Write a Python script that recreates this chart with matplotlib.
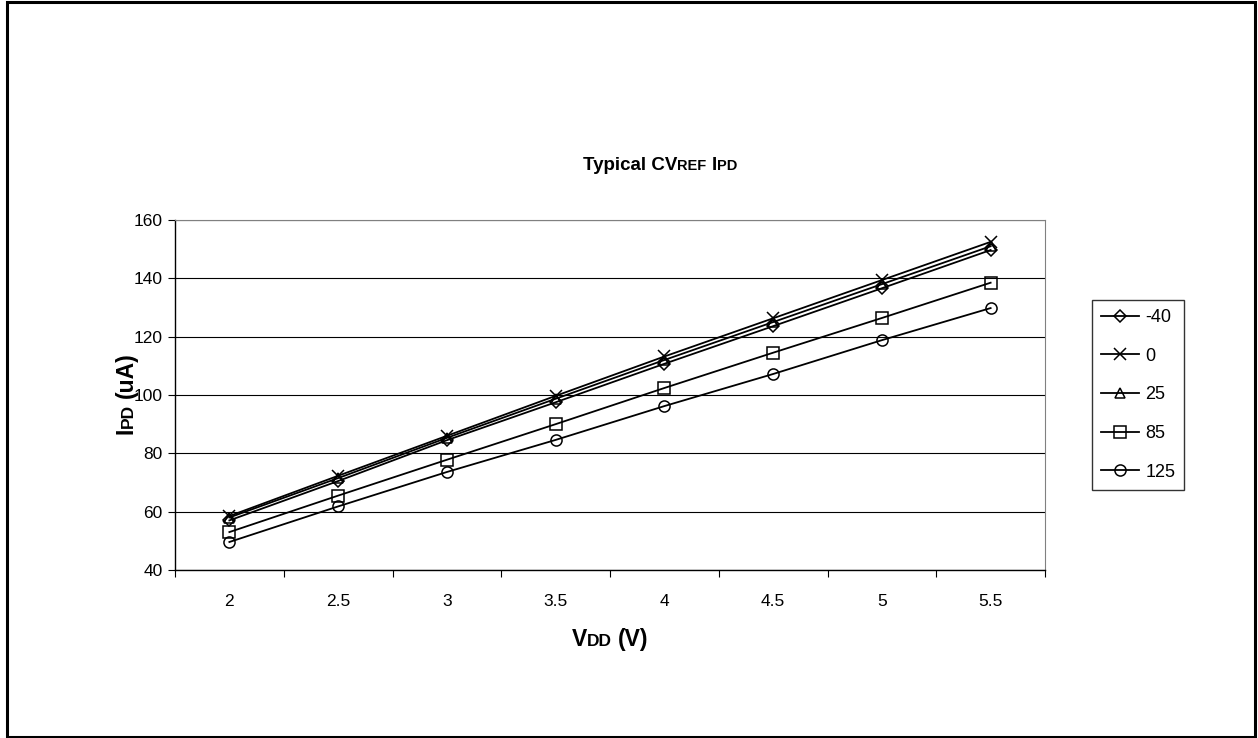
import matplotlib
matplotlib.use('Agg')
import matplotlib.pyplot as plt
from matplotlib.patches import Rectangle
from matplotlib.transforms import IdentityTransform

plt.rcParams['font.family'] = ['Liberation Sans', 'DejaVu Sans']

vdd = ['2', '2.5', '3', '3.5', '4', '4.5', '5', '5.5']
temps = ['-40', '0', '25', '85', '125']
ipd_m40 = [57.0, 70.5, 84.5, 97.5, 110.7, 123.6, 136.6, 149.7]
ipd_0 = [58.5, 72.3, 86.0, 99.7, 113.2, 126.3, 139.4, 152.5]
ipd_25 = [58.0, 71.5, 85.3, 98.7, 112.0, 125.0, 138.0, 151.0]
ipd_85 = [53.0, 65.5, 77.8, 90.0, 102.4, 114.5, 126.4, 138.5]
ipd_125 = [49.6, 61.8, 73.6, 84.6, 96.2, 107.2, 118.8, 129.8]
series = [ipd_m40, ipd_0, ipd_25, ipd_85, ipd_125]
markers = ['D', 'x', '^', 's', 'o']
msizes = [6, 9, 7, 8, 8]

W, H = 1258, 738
fig = plt.figure(figsize=(W / 100, H / 100), dpi=100)

# outer border
fig.patches.append(Rectangle((7 / W, 1 / H), 1248 / W, 735 / H, transform=fig.transFigure,
                             fill=False, ec='black', lw=2.2))

ax = fig.add_axes([175 / W, 1 - 570 / H, 870 / W, 350 / H])
xs = list(range(len(vdd)))
for vals, lab, m, ms in zip(series, temps, markers, msizes):
    ax.plot(xs, vals, color='black', lw=1.3, marker=m, markersize=ms,
            markerfacecolor='none', markeredgecolor='black', markeredgewidth=1.1, label=lab)

ax.set_xlim(-0.5, len(vdd) - 0.5)
ax.set_ylim(40, 160)
ax.set_yticks(range(40, 161, 20))
ax.yaxis.grid(True, color='black', lw=0.8)
ax.set_axisbelow(True)
ax.set_xticks(xs)
ax.set_xticklabels(vdd)
ax.set_xticks([i - 0.5 for i in range(len(vdd) + 1)], minor=True)
ax.tick_params(axis='x', which='major', length=0, pad=17, labelsize=12.5)
ax.tick_params(axis='x', which='minor', length=5, direction='out', width=0.8)
ax.tick_params(axis='y', length=5, direction='out', width=0.8, pad=4, labelsize=12.5)
for s in ['top', 'right']:
    ax.spines[s].set_color('#808080')
for s in ['left', 'bottom']:
    ax.spines[s].set_color('black')
    ax.spines[s].set_linewidth(1.0)

leg = ax.legend(loc='upper left', bbox_to_anchor=(1092 / W, 1 - 300 / H),
                bbox_transform=fig.transFigure, frameon=True, fancybox=False,
                edgecolor='black', fontsize=13, handlelength=2.1, handletextpad=0.35,
                labelspacing=1.2, borderpad=0.5, borderaxespad=0)
leg.get_frame().set_linewidth(1.0)

renderer = fig.canvas.get_renderer()


def rich_text(x, y, parts, rotation=0):
    # parts: (text, size) or a number = gap in pixels; x, y in pixels from the bottom left
    widths = []
    for p in parts:
        if isinstance(p, (int, float)):
            widths.append(p)
            continue
        t = fig.text(0, 0, p[0], fontsize=p[1], fontweight='bold')
        widths.append(t.get_window_extent(renderer).width)
        t.remove()
    pos = -sum(widths) / 2
    for p, w in zip(parts, widths):
        if not isinstance(p, (int, float)):
            px, py = (x + pos, y) if rotation == 0 else (x, y + pos)
            fig.text(px, py, p[0], fontsize=p[1], fontweight='bold', transform=IdentityTransform(),
                     rotation=rotation, rotation_mode='anchor', ha='left', va='baseline')
        pos += w


rich_text(660, H - 170, [('Typical CV', 13.5), ('REF', 10.5), 5, ('I', 13.5), ('PD', 10.5)])
rich_text(610, H - 646, [('V', 16.5), ('DD', 12.5), 6, ('(V)', 16.5)])
rich_text(133, H - 393, [('I', 16.5), ('PD', 12.5), 6, ('(uA)', 16.5)], rotation=90)

fig.savefig('out.png', dpi=100)
